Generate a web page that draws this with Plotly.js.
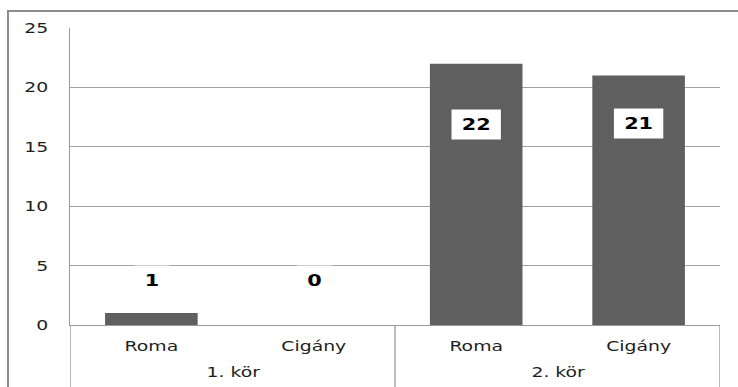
<!DOCTYPE html>
<html>
<head>
<meta charset="utf-8">
<script src="https://cdn.plot.ly/plotly-3.0.1.min.js"></script>
<style>
  html, body { margin: 0; padding: 0; background: #fff; overflow: hidden; }
  #wrap { position: relative; width: 738px; height: 387px; overflow: hidden; }
  #frame {
    position: absolute; left: 7px; top: 10px; width: 760px; height: 400px;
    border-left: 2px solid #8c8c8c; border-top: 2px solid #8c8c8c;
    box-sizing: border-box;
  }
  #chart { position: absolute; left: 0; top: 0; transform-origin: 0 0; }
</style>
</head>
<body>
<div id="wrap">
  <div id="frame"></div>
  <div id="chart"></div>
</div>
<script>
// Election rounds and the two self-designations counted in each
const rounds = ["1. kör", "1. kör", "2. kör", "2. kör"];
const names = ["Roma", "Cigány", "Roma", "Cigány"];
const counts = [1, 0, 22, 21];

// Height (in axis units) where each value label sits
const labelHeights = [3.75, 3.75, 16.9, 17.0];

// The chart is laid out narrower and stretched sideways to the page width
const PAGE_W = 738, PAGE_H = 387;
const W = 568;
const S = PAGE_W / W;
const chartDiv = document.getElementById('chart');
chartDiv.style.transform = 'scaleX(' + S + ')';

const fontFam = 'DejaVu Sans, sans-serif';
const tickFont = { family: fontFam, size: 14.5, color: '#1e1e1e' };
const gridCol = '#a3a3a3';
const lineCol = '#9a9a9a';

// one slot per bar along the category axis
const slots = counts.map((_, i) => i);

const trace = {
  type: 'bar',
  x: slots,
  y: counts,
  marker: { color: '#5f5f5f', line: { width: 0 } },
  hoverinfo: 'skip',
  showlegend: false
};

// value labels in white boxes
const annotations = counts.map((v, i) => {
  const txt = String(v);
  return {
    x: slots[i], y: labelHeights[i], xref: 'x', yref: 'y',
    text: '<b>' + txt + '</b>',
    showarrow: false,
    font: { family: fontFam, size: 16, color: '#000' },
    bgcolor: '#ffffff',
    width: txt.length * 11 + 13,
    height: 27,
    xanchor: 'center', yanchor: 'middle'
  };
});

// group (round) labels under the category labels, and dividers between groups
const shapes = [];
const groups = [];
rounds.forEach((r, i) => {
  if (!groups.length || groups[groups.length - 1].name !== r) {
    groups.push({ name: r, first: i, last: i });
  } else {
    groups[groups.length - 1].last = i;
  }
});
const edges = new Set();
groups.forEach(g => {
  edges.add(g.first - 0.5);
  edges.add(g.last + 0.5);
  annotations.push({
    x: (g.first + g.last) / 2, y: 0, xref: 'x', yref: 'paper',
    yanchor: 'middle', yshift: -47,
    text: g.name, showarrow: false, font: tickFont
  });
});
edges.forEach(e => {
  shapes.push({
    type: 'line', xref: 'x', yref: 'paper',
    x0: e, x1: e, y0: 0, y1: -0.3,
    line: { color: lineCol, width: 1 }
  });
});

const layout = {
  width: W, height: PAGE_H,
  margin: { l: 54, r: 14, t: 28, b: 62, pad: 0 },
  paper_bgcolor: 'rgba(0,0,0,0)',
  plot_bgcolor: '#ffffff',
  bargap: 0.43,
  xaxis: {
    range: [-0.5, counts.length - 0.5],
    tickmode: 'array', tickvals: slots, ticktext: names,
    showline: true, linecolor: lineCol, linewidth: 1,
    showgrid: false, zeroline: false,
    ticks: 'outside', ticklen: 8, tickcolor: 'rgba(0,0,0,0)',
    tickfont: tickFont,
    fixedrange: true
  },
  yaxis: {
    range: [0, 25], dtick: 5, tick0: 0,
    showline: true, linecolor: lineCol, linewidth: 1,
    showgrid: true, gridcolor: gridCol, gridwidth: 1,
    zeroline: true, zerolinecolor: gridCol, zerolinewidth: 1,
    ticks: 'outside', ticklen: 13, tickcolor: 'rgba(0,0,0,0)',
    tickfont: tickFont,
    fixedrange: true
  },
  annotations: annotations,
  shapes: shapes
};

Plotly.newPlot(chartDiv, [trace], layout, { displayModeBar: false, staticPlot: true });
</script>
</body>
</html>
